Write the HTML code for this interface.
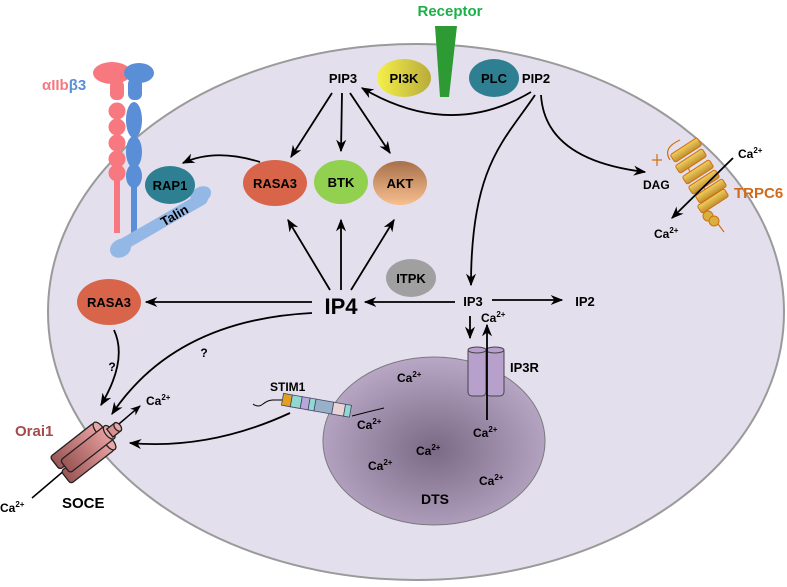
<!DOCTYPE html>
<html><head><meta charset="utf-8"><style>
body{margin:0;background:#fff;}
svg{display:block;font-family:"Liberation Sans",Arial,sans-serif;font-weight:bold;}
</style></head><body>
<svg width="787" height="587" viewBox="0 0 787 587" xmlns="http://www.w3.org/2000/svg">
<defs>
<marker id="a" viewBox="0 0 10 10" refX="9" refY="5" markerWidth="7" markerHeight="7" orient="auto-start-reverse"><path d="M0,1 L10,5 L0,9 L3,5 z" fill="#000"/></marker>
<radialGradient id="dts" cx="0.5" cy="0.55" r="0.55"><stop offset="0" stop-color="#7a6a85"/><stop offset="1" stop-color="#b8a8c6"/></radialGradient>
<linearGradient id="pi3k" x1="0" x2="1"><stop offset="0" stop-color="#f5f04a"/><stop offset="1" stop-color="#b8ac3a"/></linearGradient>
<linearGradient id="akt" x1="0" y1="0" x2="0" y2="1"><stop offset="0" stop-color="#a8704a"/><stop offset="1" stop-color="#f8c090"/></linearGradient>
<linearGradient id="orai" x1="0" y1="0" x2="1" y2="0"><stop offset="0" stop-color="#9a5555"/><stop offset="1" stop-color="#e8a0a0"/></linearGradient>
<linearGradient id="hel" x1="0" y1="0" x2="0" y2="1"><stop offset="0" stop-color="#f0d060"/><stop offset="1" stop-color="#c09030"/></linearGradient>
</defs>
<ellipse cx="416" cy="312" rx="368" ry="268" fill="#e4dfec" stroke="#9a9a9a" stroke-width="2"/>
<ellipse cx="434" cy="441" rx="111" ry="84" fill="url(#dts)" stroke="#7a7a7a" stroke-width="1"/>
<text x="450" y="16" font-size="15" fill="#1db04a" text-anchor="middle">Receptor</text>
<polygon points="435,26 457,26 449,97 440,97" fill="#2e9a34"/>
<text x="42" y="90" font-size="15" fill="#f47a80">αIIb<tspan fill="#5a8ed6">β3</tspan></text>
<g fill="#f87880">
<ellipse cx="112" cy="73" rx="19" ry="11"/><rect x="110" y="80" width="14" height="20" rx="6"/>
<circle cx="117" cy="111" r="8.5"/><circle cx="117" cy="127" r="8.5"/><circle cx="117" cy="143" r="8.5"/><circle cx="117" cy="159" r="8.5"/><circle cx="117" cy="173" r="8.5"/>
<rect x="114" y="175" width="6" height="58"/></g>
<g fill="#5a8ed6">
<ellipse cx="139" cy="73" rx="15" ry="10"/><rect x="128" y="78" width="14" height="22" rx="6"/>
<ellipse cx="134" cy="120" rx="8" ry="18"/><ellipse cx="134" cy="152" rx="8" ry="16"/><ellipse cx="134" cy="176" rx="8" ry="12"/>
<rect x="131" y="180" width="6" height="53"/></g>
<g transform="rotate(-30 162 222)" fill="#94b8e6">
<rect x="110" y="216" width="104" height="12" rx="6"/><ellipse cx="113" cy="224" rx="11" ry="9"/><ellipse cx="209" cy="218" rx="11" ry="8"/>
<text x="176" y="227" font-size="13" fill="#000" text-anchor="middle">Talin</text></g>
<ellipse cx="404" cy="78" rx="27" ry="19" fill="url(#pi3k)"/><text x="404" y="83" font-size="13" text-anchor="middle">PI3K</text>
<ellipse cx="494" cy="78" rx="25" ry="19" fill="#2e7f92"/><text x="494" y="83" font-size="13" text-anchor="middle">PLC</text>
<text x="343" y="83" font-size="13" text-anchor="middle">PIP3</text>
<text x="536" y="83" font-size="13" text-anchor="middle">PIP2</text>
<ellipse cx="170" cy="185" rx="25" ry="19" fill="#2e7f92"/><text x="170" y="190" font-size="13" text-anchor="middle">RAP1</text>
<ellipse cx="275" cy="183" rx="32" ry="23" fill="#d8644a"/><text x="275" y="188" font-size="13" text-anchor="middle">RASA3</text>
<ellipse cx="341" cy="182" rx="27" ry="22" fill="#92d050"/><text x="341" y="187" font-size="13" text-anchor="middle">BTK</text>
<ellipse cx="400" cy="183" rx="27" ry="22" fill="url(#akt)"/><text x="400" y="188" font-size="13" text-anchor="middle">AKT</text>
<ellipse cx="109" cy="302" rx="32" ry="23" fill="#d8644a"/><text x="109" y="307" font-size="13" text-anchor="middle">RASA3</text>
<ellipse cx="411" cy="278" rx="25" ry="19" fill="#a0a0a0"/><text x="411" y="283" font-size="13" text-anchor="middle">ITPK</text>
<text x="341" y="314" font-size="22" text-anchor="middle">IP4</text>
<text x="473" y="306" font-size="13" text-anchor="middle">IP3</text>
<text x="585" y="306" font-size="13" text-anchor="middle">IP2</text>
<g stroke="#000" stroke-width="1.8" fill="none" marker-end="url(#a)">
<path d="M531,92 Q450,140 362,88"/>
<path d="M332,93 L291,157"/><path d="M342,93 L341,151"/><path d="M350,93 L390,153"/>
<path d="M260,162 Q215,148 183,163"/>
<path d="M330,290 L288,220"/><path d="M341,290 L341,220"/><path d="M351,290 L394,220"/>
<path d="M312,302 L146,302"/>
<path d="M455,302 L365,302"/>
<path d="M492,300 L562,300"/>
<path d="M535,95 C505,140 471,165 471,285"/>
<path d="M541,95 Q545,160 645,172"/>
<path d="M114,330 Q128,360 101,405"/>
<path d="M312,313 Q175,320 112,414"/>
<path d="M290,413 Q210,450 130,443"/>
<path d="M470,316 L470,338"/>
</g>
<text x="112" y="371" font-size="12" text-anchor="middle">?</text>
<text x="204" y="357" font-size="12" text-anchor="middle">?</text>
<g fill="#b8a0cc" stroke="#444" stroke-width="1">
<rect x="468" y="348" width="18" height="48" rx="4"/><rect x="486" y="348" width="18" height="48" rx="4"/>
<ellipse cx="477" cy="350" rx="9" ry="3"/><ellipse cx="495" cy="350" rx="9" ry="3"/></g>
<path d="M487,420 L487,325" stroke="#000" stroke-width="1.8" marker-end="url(#a)"/>
<text x="510" y="372" font-size="13">IP3R</text>
<text x="270" y="391" font-size="12">STIM1</text>
<path d="M253,404 q5,4 10,0 t10,-4 l10,0" stroke="#000" fill="none"/>
<g transform="rotate(10 315 405)" stroke="#446" stroke-width="0.8">
<rect x="282" y="399" width="9" height="12" fill="#e0a020"/>
<rect x="291" y="399" width="10" height="12" fill="#90d8d0"/>
<rect x="301" y="399" width="8" height="12" fill="#b8a8d8"/>
<rect x="309" y="399" width="6" height="12" fill="#90d8d0"/>
<rect x="315" y="399" width="18" height="12" fill="#98b0c8"/>
<rect x="333" y="399" width="12" height="12" fill="#e8d4d4"/>
<rect x="345" y="399" width="6" height="12" fill="#90d8d0"/></g>
<path d="M352,416 q15,-4 32,-8" stroke="#000" fill="none"/>
<!-- TRPC6 -->
<path d="M670,160 q-8,-12 10,-20 M690,172 q-6,-10 12,-18 M705,190 q-6,-10 12,-18 M700,200 L724,232 M652,160 l10,0 M657,154 l0,12" stroke="#d07010" fill="none" stroke-width="1.2"/>
<g fill="url(#hel)" stroke="#d07010" stroke-width="1">
<rect x="-16" y="-4.5" width="32" height="9" rx="2" transform="translate(686,150) rotate(-33)"/>
<rect x="-16" y="-4.5" width="32" height="9" rx="2" transform="translate(691,161) rotate(-33)"/>
<rect x="-16" y="-4.5" width="32" height="9" rx="2" transform="translate(698,172) rotate(-33)"/>
<rect x="-16" y="-4.5" width="32" height="9" rx="2" transform="translate(704,182) rotate(-33)"/>
<rect x="-16" y="-4.5" width="32" height="9" rx="2" transform="translate(711,191) rotate(-33)"/>
<rect x="-16" y="-4.5" width="32" height="9" rx="2" transform="translate(713,201) rotate(-33)"/>
</g>
<circle cx="708" cy="216" r="5" fill="#d8b040" stroke="#d07010"/><circle cx="714" cy="221" r="5" fill="#d8b040" stroke="#d07010"/>
<path d="M733,158 L672,218" stroke="#000" stroke-width="1.8" marker-end="url(#a)"/>
<text x="643" y="189" font-size="12">DAG</text>
<text x="738" y="158" font-size="12">Ca<tspan font-size="8" dy="-5">2+</tspan></text>
<text x="654" y="238" font-size="12">Ca<tspan font-size="8" dy="-5">2+</tspan></text>
<text x="734" y="198" font-size="15" fill="#d06a1a">TRPC6</text>
<!-- Orai -->
<path d="M32,498 L140,406" stroke="#000" stroke-width="1.5" marker-end="url(#a)"/>
<g transform="translate(84,452) rotate(-38)" stroke="#222" stroke-width="1.3">
<rect x="-30" y="-17" width="56" height="16" rx="3" fill="url(#orai)"/>
<ellipse cx="26" cy="-9" rx="4" ry="8" fill="#e8a8a8"/>
<rect x="-30" y="1" width="56" height="16" rx="3" fill="url(#orai)"/>
<ellipse cx="26" cy="9" rx="4" ry="8" fill="#e8a8a8"/>
<rect x="-24" y="-8" width="56" height="16" rx="3" fill="url(#orai)"/>
<ellipse cx="32" cy="0" rx="4" ry="8" fill="#e8a8a8"/>
<rect x="32" y="-4" width="10" height="10" fill="#d89090"/>
<ellipse cx="42" cy="1" rx="3" ry="5" fill="#e8a8a8"/>
</g>
<text x="15" y="436" font-size="15" fill="#a84a4a">Orai1</text>
<text x="62" y="508" font-size="15">SOCE</text>
<text x="0" y="512" font-size="12">Ca<tspan font-size="8" dy="-5">2+</tspan></text>
<text x="146" y="405" font-size="12">Ca<tspan font-size="8" dy="-5">2+</tspan></text>
<g font-size="12">
<text x="481" y="322">Ca<tspan font-size="8" dy="-5">2+</tspan></text>
<text x="397" y="382">Ca<tspan font-size="8" dy="-5">2+</tspan></text>
<text x="357" y="429">Ca<tspan font-size="8" dy="-5">2+</tspan></text>
<text x="473" y="437">Ca<tspan font-size="8" dy="-5">2+</tspan></text>
<text x="416" y="455">Ca<tspan font-size="8" dy="-5">2+</tspan></text>
<text x="368" y="470">Ca<tspan font-size="8" dy="-5">2+</tspan></text>
<text x="479" y="485">Ca<tspan font-size="8" dy="-5">2+</tspan></text>
</g>
<text x="435" y="504" font-size="14" text-anchor="middle">DTS</text>
</svg>
</body></html>
